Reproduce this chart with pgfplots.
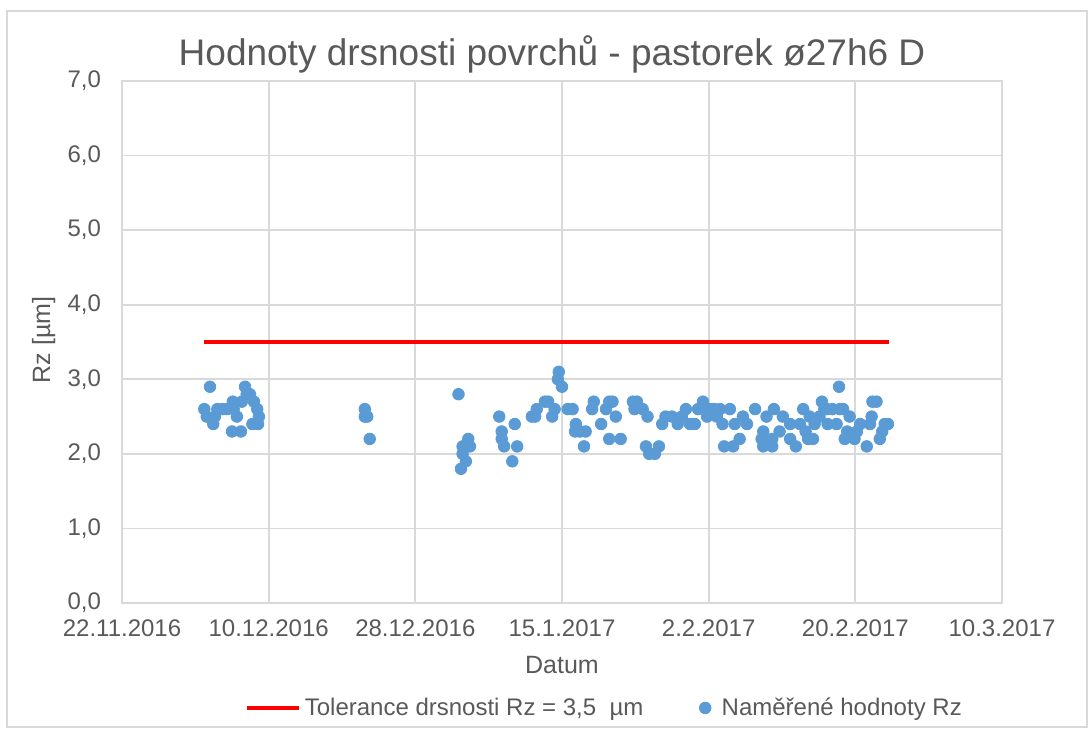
\documentclass[border=0pt]{standalone}
\usepackage{pgfplots}
\pgfplotsset{compat=1.18}
\usepackage{pgfplotstable}
\usepackage{fontspec}
\setmainfont{Liberation Sans}
\definecolor{txt}{HTML}{595959}
\definecolor{gridc}{HTML}{D9D9D9}
\definecolor{dots}{HTML}{5B9BD5}

\pgfplotstableread{
day val
10.8 2.9
10.1 2.6
10.4 2.5
11.2 2.4
11.4 2.5
11.7 2.6
12.3 2.6
12.9 2.6
13.5 2.3
14.6 2.3
13.6 2.7
13.7 2.6
14.1 2.5
14.7 2.7
15.1 2.9
15.3 2.8
15.7 2.8
16.2 2.7
16.6 2.6
16.8 2.5
16.0 2.4
16.7 2.4
29.8 2.6
29.8 2.5
30.1 2.5
30.4 2.2
41.3 2.8
41.6 1.8
41.8 2.0
41.8 2.1
42.2 1.9
42.5 2.2
42.7 2.1
46.3 2.5
46.6 2.3
46.6 2.2
46.9 2.1
48.2 2.4
47.9 1.9
48.5 2.1
50.3 2.5
50.7 2.5
50.9 2.6
51.9 2.7
52.3 2.7
52.8 2.5
53.1 2.6
53.5 3.0
53.6 3.1
54.0 2.9
54.7 2.6
55.3 2.6
55.7 2.4
55.6 2.3
56.2 2.3
56.9 2.3
56.7 2.1
57.9 2.7
57.7 2.6
58.8 2.4
59.4 2.6
59.8 2.7
60.2 2.7
60.6 2.5
59.8 2.2
61.2 2.2
62.7 2.7
63.2 2.7
62.9 2.6
63.9 2.6
64.5 2.5
64.3 2.1
64.7 2.0
65.4 2.0
65.9 2.1
66.3 2.4
66.7 2.5
67.5 2.5
68.2 2.4
68.7 2.5
69.2 2.6
69.7 2.4
70.3 2.4
70.7 2.6
71.3 2.7
71.8 2.5
72.0 2.6
72.4 2.6
72.7 2.6
73.0 2.5
73.4 2.6
73.7 2.4
73.9 2.1
74.6 2.6
75.0 2.1
75.2 2.4
75.8 2.2
76.2 2.5
76.7 2.4
77.7 2.6
78.7 2.3
78.5 2.2
78.7 2.1
79.1 2.5
79.8 2.2
79.8 2.1
80.0 2.6
80.7 2.3
81.1 2.5
82.0 2.2
82.0 2.4
82.7 2.1
83.2 2.4
83.6 2.6
83.9 2.3
84.2 2.2
84.8 2.2
84.4 2.5
85.0 2.4
85.9 2.7
85.6 2.5
86.2 2.6
86.5 2.6
86.6 2.4
87.2 2.6
87.7 2.4
88.1 2.6
88.5 2.6
88.0 2.9
89.3 2.5
89.0 2.3
88.7 2.2
89.9 2.2
90.2 2.3
90.6 2.4
91.4 2.1
92.0 2.5
91.8 2.4
92.1 2.7
92.6 2.7
93.3 2.3
93.0 2.2
93.6 2.4
94.0 2.4
}\measureddata

\pgfplotstableread{
day val
10.1 3.5
94.1 3.5
}\tollinedata

\begin{document}
\begin{tikzpicture}
\begin{axis}[
  at={(0,0)}, anchor=south west,
  scale only axis,
  width=440bp, height=261bp,
  xmin=0, xmax=108, ymin=0, ymax=7,
  xtick={0,18,36,54,72,90,108},
  xticklabels={22.11.2016,10.12.2016,28.12.2016,15.1.2017,2.2.2017,20.2.2017,10.3.2017},
  ytick={0,1,...,7},
  yticklabel style={text=txt, font=\fontsize{12bp}{14bp}\selectfont, xshift=-7bp,
    /pgf/number format/use comma, /pgf/number format/fixed, /pgf/number format/fixed zerofill,
    /pgf/number format/precision=1, /pgf/number format/assume math mode=true},
  xticklabel style={text=txt, font=\fontsize{12bp}{14bp}\selectfont, yshift=-5bp},
  major tick length=0pt,
  grid=major,
  major grid style={draw=gridc, line width=0.9bp},
  axis line style={draw=gridc, line width=0.9bp},
  legend style={at={(0.549,-0.201)}, anchor=center, draw=none, fill=none,
    legend columns=2, font=\fontsize{12bp}{14bp}\selectfont, text=txt,
    /tikz/every even column/.append style={column sep=26bp}},
  clip=false,
]
\addplot[red, line width=2.2bp, legend image code/.code={\draw[##1] (0bp,0bp) -- (26bp,0bp);}] table[x=day,y=val] {\tollinedata};
\addlegendentry{Tolerance drsnosti Rz = 3,5 \ µm}
\addplot[only marks, mark=*, mark size=2.9bp, mark options={fill=dots, draw=dots}] table[x=day,y=val] {\measureddata};
\addlegendentry{\ Naměřené hodnoty Rz}
\end{axis}
\node[anchor=base, text=txt, font=\fontsize{18.5bp}{22bp}\selectfont] at (215bp,268.5bp) {Hodnoty drsnosti povrchů - pastorek ø27h6 D};
\node[anchor=base, text=txt, font=\fontsize{12.5bp}{14bp}\selectfont] at (220bp,-35bp) {Datum};
\node[anchor=base, rotate=90, text=txt, font=\fontsize{12.5bp}{14bp}\selectfont] at (-36bp,131.5bp) {Rz [µm]};
\draw[gridc, line width=0.9bp] (-57.5bp,-62bp) rectangle (482.5bp,296bp);
\pgfresetboundingbox
\path[use as bounding box] (-61bp,-64bp) rectangle (484.5bp,301.5bp);
\end{tikzpicture}
\end{document}
